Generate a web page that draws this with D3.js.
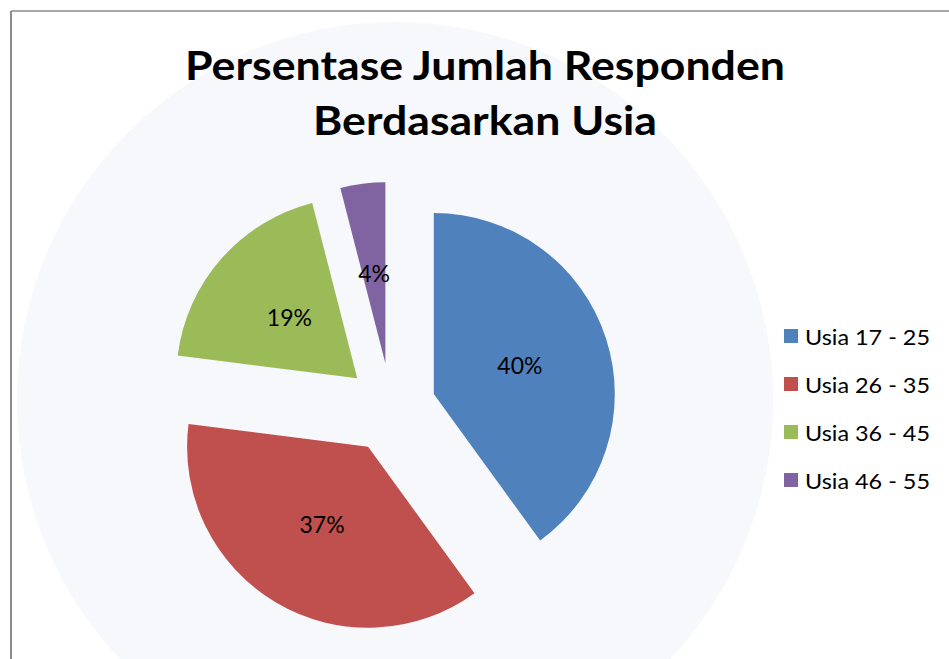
<!DOCTYPE html>
<html>
<head>
<meta charset="utf-8">
<script src="https://cdn.jsdelivr.net/npm/d3@7"></script>
<style>
  body { margin: 0; background: #fff; }
  text { font-family: Lato, "Open Sans", sans-serif; fill: #000; }
</style>
</head>
<body>
<script>
// Width and height
var w = 949;
var h = 659;

// data
var categories = ["Usia 17 - 25", "Usia 26 - 35", "Usia 36 - 45", "Usia 46 - 55"];
var values = [40, 37, 19, 4];
var colors = ["#4F81BD", "#C0504D", "#9BBB59", "#8064A2"];
var titleLines = ["Persentase Jumlah Responden", "Berdasarkan Usia"];
var titleWidths = [600, 344];

var cx = 391, cy = 408;
var radius = 181;
var explode = 45;

var svg = d3.select("body")
  .append("svg")
  .attr("width", w)
  .attr("height", h);

// faint watermark disc
svg.append("circle")
  .attr("cx", 395)
  .attr("cy", 400)
  .attr("r", 378)
  .attr("fill", "#f7f8fb");

// frame lines
svg.append("line")
  .attr("x1", 11).attr("y1", 11).attr("x2", w).attr("y2", 11)
  .attr("stroke", "#8a8a8a").attr("stroke-width", 1.5);
svg.append("line")
  .attr("x1", 11).attr("y1", 11).attr("x2", 11).attr("y2", h)
  .attr("stroke", "#8a8a8a").attr("stroke-width", 2);

// title
svg.selectAll("text.title")
  .data(titleLines)
  .enter()
  .append("text")
  .attr("class", "title")
  .attr("x", 485)
  .attr("y", function(d, i) { return 80 + i * 55; })
  .attr("text-anchor", "middle")
  .attr("textLength", function(d, i) { return titleWidths[i]; })
  .attr("lengthAdjust", "spacingAndGlyphs")
  .style("font-size", "40px")
  .style("font-weight", "bold")
  .text(function(d) { return d; });

var pie = d3.pie().sort(null);
var arc = d3.arc().innerRadius(0).outerRadius(radius);
var arcs = pie(values);

function offset(d) {
  var a = (d.startAngle + d.endAngle) / 2;
  return [explode * Math.sin(a), -explode * Math.cos(a)];
}

var g = svg.append("g")
  .attr("transform", "translate(" + cx + "," + cy + ")");

var slices = g.selectAll("g.slice")
  .data(arcs)
  .enter()
  .append("g")
  .attr("class", "slice")
  .attr("transform", function(d) {
    var o = offset(d);
    return "translate(" + o[0] + "," + o[1] + ")";
  });

slices.append("path")
  .attr("d", arc)
  .attr("fill", function(d, i) { return colors[i]; });

slices.append("text")
  .attr("transform", function(d) { return "translate(" + arc.centroid(d) + ")"; })
  .attr("text-anchor", "middle")
  .attr("dy", "0.35em")
  .style("font-size", "23px")
  .text(function(d) { return d.data + "%"; });

// legend
var legend = svg.selectAll("g.legend")
  .data(categories)
  .enter()
  .append("g")
  .attr("class", "legend")
  .attr("transform", function(d, i) { return "translate(784," + (336 + i * 48) + ")"; });

legend.append("rect")
  .attr("x", 0)
  .attr("y", -7)
  .attr("width", 14)
  .attr("height", 14)
  .attr("fill", function(d, i) { return colors[i]; });

legend.append("text")
  .attr("x", 21)
  .attr("y", 9)
  .attr("textLength", 125)
  .attr("lengthAdjust", "spacingAndGlyphs")
  .style("font-size", "21px")
  .text(function(d) { return d; });
</script>
</body>
</html>
